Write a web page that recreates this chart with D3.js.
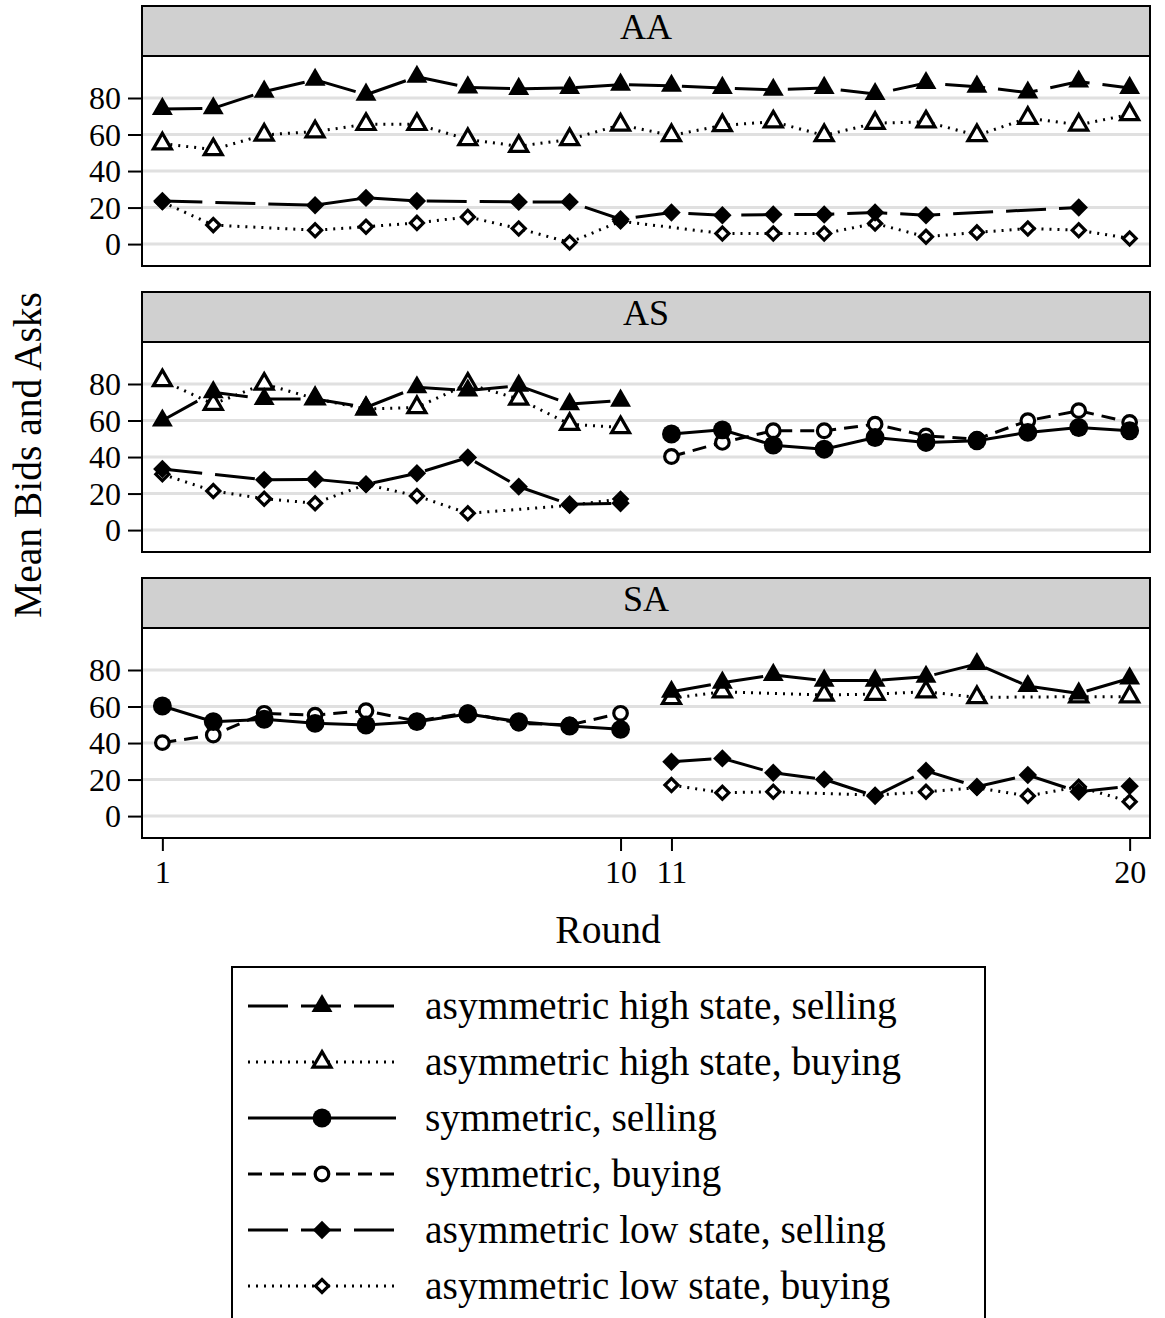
<!DOCTYPE html>
<html>
<head>
<meta charset="utf-8">
<script src="https://cdn.jsdelivr.net/npm/d3@7"></script>
<style>
    body { margin: 0; background: #fff; }
    svg { display: block; font-family: "Liberation Serif", "Times New Roman", serif; }
</style>
</head>
<body>
<svg id="chart" width="1165" height="1318"></svg>
<script>
// Rounds and tick labels
var rounds = d3.range(1, 21);
var panelNames = ["AA", "AS", "SA"];
var yTicks = [0, 20, 40, 60, 80];
var xTicks = [1, 10, 11, 20];

var seriesLabels = [
    "asymmetric high state, selling",
    "asymmetric high state, buying",
    "symmetric, selling",
    "symmetric, buying",
    "asymmetric low state, selling",
    "asymmetric low state, buying"
];

// AA treatment (null = no observation)
var aaHighSell = [74, 74.4, 83.5, 90, 81.8, 91.6, 85.8, 85, 85.5, 87.3, 86.7, 85.5, 84.5, 85.5, 82.2, 88.2, 86.2, 83, 89, 85.5];
var aaHighBuy = [55, 51.8, 59.8, 61.6, 65.6, 65.6, 57.3, 53.6, 57.3, 65.3, 59.5, 65, 67, 59.5, 66.2, 67, 59.5, 69, 65.3, 71];
var aaSymSell = [null, null, null, null, null, null, null, null, null, null, null, null, null, null, null, null, null, null, null, null];
var aaSymBuy = [null, null, null, null, null, null, null, null, null, null, null, null, null, null, null, null, null, null, null, null];
var aaLowSell = [23.6, null, null, 21.3, 25.3, 23.6, null, 23.1, 23.1, 13.6, 17.3, 15.8, 16.2, 16.2, 17.3, 15.8, null, null, 20, null];
var aaLowBuy = [23, 10.4, null, 7.6, 9.5, 11.6, 14.9, 8.5, 0.9, 12.5, null, 5.8, 5.8, 5.8, 11.3, 4, 6.4, 8.5, 7.6, 3.1];

// AS treatment
var asHighSell = [60, 75.5, 71.8, 71.8, 67.2, 78.2, 76.4, 79.1, 69, 70.9, null, null, null, null, null, null, null, null, null, null];
var asHighBuy = [81.9, 69, 80, 72, 66.3, 67.2, 80, 71.8, 58, 56.2, null, null, null, null, null, null, null, null, null, null];
var asSymSell = [null, null, null, null, null, null, null, null, null, null, 52.6, 54.9, 46.5, 44.3, 50.7, 48, 48.9, 53.5, 56.2, 54.4];
var asSymBuy = [null, null, null, null, null, null, null, null, null, null, 40.3, 48, 54.4, 54.4, 58, 51.6, 49.8, 59.9, 65.4, 59];
var asLowSell = [33.5, null, 27.5, 27.8, 25.1, 31.1, 39.7, 23.8, 14.1, 14.7, null, null, null, null, null, null, null, null, null, null];
var asLowBuy = [30.6, 21.4, 17.2, 14.7, 25, 18.7, 9.2, null, 13.5, 17, null, null, null, null, null, null, null, null, null, null];

// SA treatment
var saHighSell = [null, null, null, null, null, null, null, null, null, null, 68.1, 73.1, 77.3, 74.2, 74.2, 76.3, 83.3, 71.2, 67.2, 75.4];
var saHighBuy = [null, null, null, null, null, null, null, null, null, null, 64.5, 68.1, null, 66.3, 66.8, 68.1, 65, null, 65.4, 65.4];
var saSymSell = [60.3, 51.7, 53, 50.8, 49.9, 51.7, 55.9, 51.7, 49.3, 47.5, null, null, null, null, null, null, null, null, null, null];
var saSymBuy = [40.2, 44.4, 56.3, 55.3, 57.7, 52, 56.6, 50.8, 49.9, 56.3, null, null, null, null, null, null, null, null, null, null];
var saLowSell = [null, null, null, null, null, null, null, null, null, null, 29.8, 31.6, 23.7, 20.1, 11, 24.8, 16.1, 22.5, 13.3, 16.4];
var saLowBuy = [null, null, null, null, null, null, null, null, null, null, 17, 12.8, 13.3, null, 11.5, 13.3, 15.5, 11, 16.1, 7.9];

var panelSeries = [
    [aaHighSell, aaHighBuy, aaSymSell, aaSymBuy, aaLowSell, aaLowBuy],
    [asHighSell, asHighBuy, asSymSell, asSymBuy, asLowSell, asLowBuy],
    [saHighSell, saHighBuy, saSymSell, saSymBuy, saLowSell, saLowBuy]
];

// Line / marker look for each series
var styles = [
    { dash: "40,13", symbol: d3.symbolTriangle, filled: true, size: 190, rotate: 0 },
    { dash: "2,6", symbol: d3.symbolTriangle, filled: false, size: 140, rotate: 0 },
    { dash: null, symbol: d3.symbolCircle, filled: true, size: 280, rotate: 0 },
    { dash: "14,8", symbol: d3.symbolCircle, filled: false, size: 145, rotate: 0 },
    { dash: "40,13", symbol: d3.symbolSquare, filled: true, size: 170, rotate: 45 },
    { dash: "2,6", symbol: d3.symbolSquare, filled: false, size: 85, rotate: 45 }
];

var svg = d3.select("#chart");

var plotLeft = 142, plotRight = 1150;
var stripHeight = 50, plotHeight = 210, panelStep = 286, firstTop = 6;

var xScale = d3.scaleLinear().domain([0.6, 20.4]).range([plotLeft, plotRight]);

function markerPath(st) {
    return d3.symbol().type(st.symbol).size(st.size)();
}

function drawMarker(g, st, x, y) {
    g.append("path")
        .attr("d", markerPath(st))
        .attr("transform", "translate(" + x + "," + y + ") rotate(" + st.rotate + ")")
        .attr("fill", st.filled ? "#000" : "#fff")
        .attr("stroke", "#000")
        .attr("stroke-width", st.filled ? 0 : 3.2)
        .attr("stroke-linejoin", "miter");
}

panelNames.forEach(function (name, p) {
    var top = firstTop + p * panelStep;
    var plotTop = top + stripHeight;
    var yScale = d3.scaleLinear().domain([-12, 103]).range([plotTop + plotHeight, plotTop]);

    var g = svg.append("g");

    // strip with the treatment name
    g.append("rect")
        .attr("x", plotLeft).attr("y", top)
        .attr("width", plotRight - plotLeft).attr("height", stripHeight)
        .attr("fill", "#d0d0d0").attr("stroke", "#000").attr("stroke-width", 2);
    g.append("text")
        .attr("x", (plotLeft + plotRight) / 2).attr("y", top + 33)
        .attr("text-anchor", "middle")
        .style("font-size", "36px")
        .text(name);

    // grid lines
    g.selectAll(".grid")
        .data(yTicks)
        .enter().append("line")
        .attr("x1", plotLeft).attr("x2", plotRight)
        .attr("y1", d => yScale(d)).attr("y2", d => yScale(d))
        .attr("stroke", "#e0e0e0").attr("stroke-width", 3);

    // y axis
    var yAxis = d3.axisLeft(yScale).tickValues(yTicks).tickSize(14).tickPadding(7);
    var ya = g.append("g")
        .attr("transform", "translate(" + plotLeft + ",0)")
        .call(yAxis);
    ya.select(".domain").remove();
    ya.selectAll("line").attr("stroke-width", 2);
    ya.selectAll("text").style("font-size", "32px").style("font-family", "Liberation Serif").attr("dy", "0.34em");

    var series = panelSeries[p];

    // lines, joined across missing rounds
    series.forEach(function (vals, s) {
        var pts = rounds.map((r, i) => [r, vals[i]]).filter(d => d[1] !== null);
        if (pts.length < 2) return;
        var line = d3.line().x(d => xScale(d[0])).y(d => yScale(d[1]));
        g.append("path")
            .datum(pts)
            .attr("d", line)
            .attr("fill", "none")
            .attr("stroke", "#000")
            .attr("stroke-width", 3)
            .attr("stroke-dasharray", styles[s].dash);
    });

    // hollow markers first, then filled on top
    [1, 3, 5, 0, 2, 4].forEach(function (s) {
        series[s].forEach(function (v, i) {
            if (v === null) return;
            drawMarker(g, styles[s], xScale(rounds[i]), yScale(v));
        });
    });

    // frame
    g.append("rect")
        .attr("x", plotLeft).attr("y", plotTop)
        .attr("width", plotRight - plotLeft).attr("height", plotHeight)
        .attr("fill", "none").attr("stroke", "#000").attr("stroke-width", 2);

    // x axis only under the last panel
    if (p === panelNames.length - 1) {
        var xAxis = d3.axisBottom(xScale).tickValues(xTicks).tickSize(13).tickPadding(9);
        var xa = g.append("g")
            .attr("transform", "translate(0," + (plotTop + plotHeight) + ")")
            .call(xAxis);
        xa.select(".domain").remove();
        xa.selectAll("line").attr("stroke-width", 2);
        xa.selectAll("text").style("font-size", "32px").style("font-family", "Liberation Serif");
    }
});

// axis titles
svg.append("text")
    .attr("x", 608).attr("y", 943)
    .attr("text-anchor", "middle")
    .style("font-size", "39.5px")
    .text("Round");

svg.append("text")
    .attr("transform", "translate(41,455) rotate(-90)")
    .attr("text-anchor", "middle")
    .style("font-size", "39.5px")
    .text("Mean Bids and Asks");

// legend
var legend = svg.append("g");
legend.append("rect")
    .attr("x", 232).attr("y", 967)
    .attr("width", 753).attr("height", 380)
    .attr("fill", "#fff").attr("stroke", "#000").attr("stroke-width", 2);

seriesLabels.forEach(function (label, i) {
    var cy = 1006 + i * 56;
    legend.append("line")
        .attr("x1", 248).attr("x2", 396)
        .attr("y1", cy).attr("y2", cy)
        .attr("stroke", "#000").attr("stroke-width", 3)
        .attr("stroke-dasharray", styles[i].dash);
    drawMarker(legend, styles[i], 322, cy);
    legend.append("text")
        .attr("x", 425).attr("y", cy + 13)
        .style("font-size", "39.5px")
        .text(label);
});
</script>
</body>
</html>
